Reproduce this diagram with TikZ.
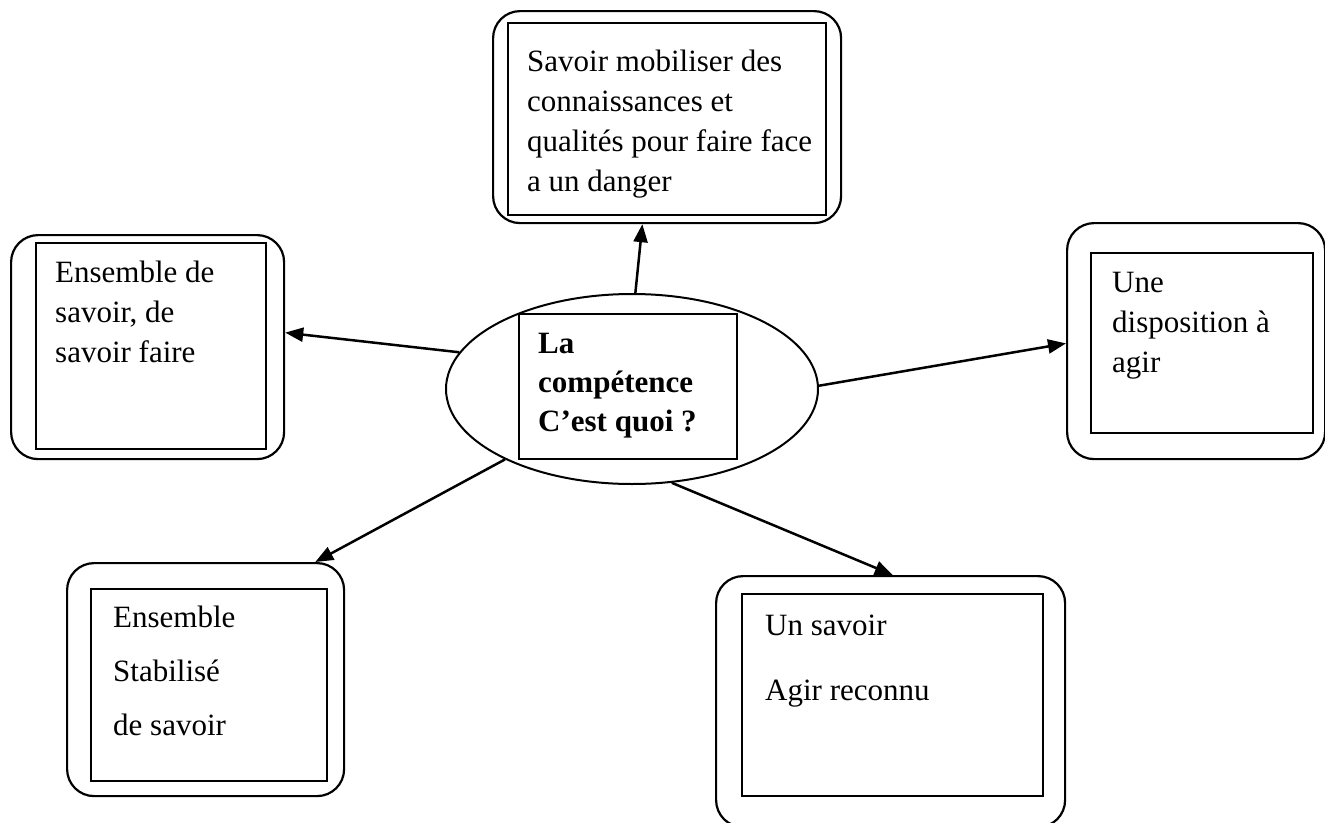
\documentclass[tikz,border=0pt]{standalone}
\usepackage{fontspec}
\setmainfont{Liberation Serif}
\usetikzlibrary{positioning, arrows.meta, shapes.geometric}

\tikzset{
  outerbox/.style={draw, line width=2.2pt, rounded corners=27pt, anchor=north west, inner sep=0pt},
  innerbox/.style={draw, line width=1.8pt, fill=white, anchor=north west, inner sep=0pt},
  txt/.style={anchor=north west, align=left, inner sep=0pt, font=\fontsize{31}{40}\selectfont},
  arr/.style={-{Triangle[length=18pt,width=14pt]}, line width=2.5pt}
}

\begin{document}
\begin{tikzpicture}[x=1pt, y=-1pt]
    \useasboundingbox (0,0) rectangle (1325,822);

    \node[outerbox, minimum width=348pt, minimum height=212pt] (top) at (492,10) {};
    \node[innerbox, minimum width=318pt, minimum height=192pt] (topin) at (507,22) {};
    \node[txt] (toptxt) at (527,50) {Savoir mobiliser des\\connaissances et\\qualités pour faire face\\a un danger};

    \node[outerbox, minimum width=273pt, minimum height=224pt] (left) at (10,234) {};
    \node[innerbox, minimum width=230pt, minimum height=206pt] (leftin) at (35,242) {};
    \node[txt] (lefttxt) at (55,261) {Ensemble de\\savoir, de\\savoir faire};

    \node[outerbox, minimum width=258pt, minimum height=236pt] (right) at (1066,222) {};
    \node[innerbox, minimum width=222pt, minimum height=180pt] (rightin) at (1090,252) {};
    \node[txt] (righttxt) at (1112,272) {Une\\disposition à\\agir};

    \node[draw, ellipse, line width=2pt, minimum width=372pt, minimum height=190pt] (comp) at (632,389) {};
    \node[innerbox, minimum width=218pt, minimum height=145pt] (compin) at (518,313) {};
    \node[txt, font=\fontsize{31}{39}\selectfont\bfseries] (comptxt) at (538,333) {La\\compétence\\C’est quoi ?};

    \node[outerbox, minimum width=277pt, minimum height=233pt] (botleft) at (66,562) {};
    \node[innerbox, minimum width=236pt, minimum height=192pt] (botleftin) at (90,588) {};
    \node[txt] (bottxtl) at (113,606) {Ensemble\\[14pt]Stabilisé\\[14pt]de savoir};

    \node[outerbox, minimum width=349pt, minimum height=251pt] (botright) at (715,575) {};
    \node[innerbox, minimum width=301pt, minimum height=202pt] (botrightin) at (741,593) {};
    \node[txt] (bottxtr) at (765,615) {Un savoir\\[25pt]Agir reconnu};

    \draw[arr] (comp.88.2) -- (top.257.8);
    \draw[arr] (comp.168) -- (left.6.7);
    \draw[arr] (comp.1.5) -- (right.181.3);
    \draw[arr] (comp.209.2) -- (botleft.47.4);
    \draw[arr] (comp.293.7) -- (botright.89.3);
\end{tikzpicture}
\end{document}
